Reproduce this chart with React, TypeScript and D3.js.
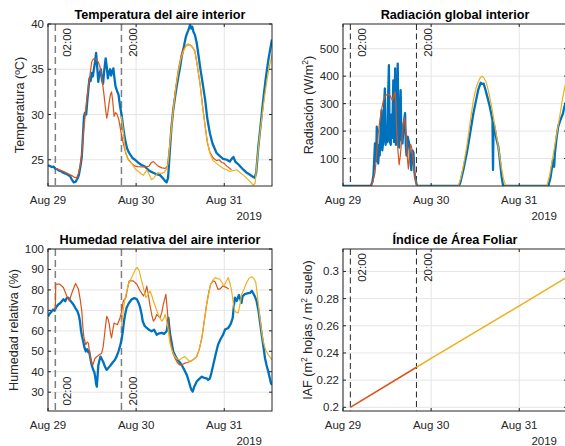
import React from 'react';
import * as d3 from 'd3';

type Pt = [number, number];

// hours counted from Aug 29 2019 00:00
const startDate = new Date(2019, 7, 29, 0, 0);
const endDate = new Date(2019, 7, 31, 13, 0);
const eventHours = [2, 20];
const eventLabels = ['02:00', '20:00'];

const tempMeasured: Pt[] = [
  [0, 24.4], [0.5, 24.3], [1, 24.2], [1.5, 24.25], [2, 24.0], [2.5, 23.95], [3, 23.8], [3.5, 23.75], [4, 23.6],
  [4.5, 23.5], [5, 23.45], [5.5, 23.3], [6, 23.2], [6.5, 22.8], [7, 22.5], [7.5, 22.55], [8, 22.9], [8.4, 23.3],
  [8.8, 24.2], [9.2, 25.3], [9.5, 27.5], [9.8, 29.8], [10.1, 30.2], [10.4, 30.0], [10.7, 31.5], [11.0, 32.8],
  [11.3, 34.0], [11.6, 33.7], [11.9, 34.6], [12.2, 34.2], [12.5, 35.0], [12.8, 35.8], [13.1, 36.8], [13.4, 35.2],
  [13.7, 33.6], [14.0, 34.5], [14.4, 35.0], [14.7, 33.8], [15.0, 33.4], [15.3, 34.8], [15.7, 36.2], [16.0, 35.3],
  [16.3, 34.0], [16.6, 34.6], [16.9, 35.0], [17.2, 34.3], [17.5, 34.8], [17.8, 35.1], [18.1, 34.0], [18.4, 33.1],
  [18.8, 32.6], [19.2, 32.2], [19.6, 31.0], [20.1, 29.8], [20.5, 28.5], [21, 27.2], [21.5, 26.3], [21.9, 25.9],
  [22.5, 25.5], [23, 25.2], [23.7, 25.0], [24.5, 24.7], [25.5, 24.4], [26.4, 24.25], [27.5, 23.8], [28.5, 23.6],
  [29.5, 23.4], [30.5, 23.3], [31.2, 23.0], [31.8, 22.7], [32.3, 22.5], [32.7, 23.0], [33.2, 26.1], [33.6, 28.5],
  [34.1, 30.5], [34.8, 32.5], [35.5, 34.2], [36.0, 35.3], [36.4, 36.4], [37.0, 37.5], [37.5, 38.5], [37.8, 38.9],
  [38.2, 39.3], [38.7, 39.9], [39.0, 39.5], [39.3, 39.7], [39.6, 39.15], [40.0, 38.8], [40.5, 37.9], [41.0, 36.5],
  [41.4, 35.3], [42.1, 33.5], [42.8, 31.6], [43.4, 29.5], [44.1, 27.9], [44.8, 26.8], [45.9, 25.75], [46.8, 25.4],
  [47.7, 25.1], [48.7, 25.0], [49.5, 24.8], [50.0, 25.1], [50.5, 25.3], [51.0, 24.8], [51.8, 24.5], [52.5, 24.2],
  [53.2, 23.9], [54.0, 23.6], [54.8, 23.4], [55.5, 23.2], [55.9, 23.1], [56.3, 23.0], [56.7, 23.6], [57.3, 26.5],
  [58.0, 29.2], [58.6, 31.6], [59.3, 34.0], [60.0, 36.0], [60.5, 37.2], [61, 38.3],
];

const tempSimA: Pt[] = [
  [2, 24.05], [3, 23.9], [4, 23.75], [5, 23.55], [5.5, 23.45], [6.5, 23.25], [7.2, 23.05], [7.8, 23.0], [8.3, 23.5],
  [8.8, 24.4], [9.2, 25.7], [9.6, 27.8], [10.1, 29.8], [10.5, 31.5], [11.0, 33.1], [11.5, 34.6], [11.9, 35.8],
  [12.3, 36.1], [12.6, 36.2], [13.1, 36.1], [13.7, 35.8], [14.2, 35.2], [14.6, 34.2], [15.0, 33.0], [15.3, 32.0],
  [15.7, 30.5], [16.0, 29.6], [16.3, 30.2], [16.6, 31.2], [17.0, 32.2], [17.3, 32.5], [17.6, 31.6], [18.0, 29.8],
  [18.4, 30.2], [18.7, 30.1], [19.0, 29.8], [19.3, 29.4], [19.9, 28.0], [20.5, 26.8], [21.2, 25.7], [21.9, 25.0],
  [22.8, 24.6], [23.7, 24.3], [24.5, 24.25], [25.5, 24.2], [26.5, 24.2], [27.5, 24.3], [28.2, 24.7], [28.7, 24.8],
  [29.2, 24.6], [30.0, 24.3], [31.0, 24.1], [31.9, 24.05], [32.5, 24.3], [33.2, 26.8], [34.1, 30.5], [34.8, 33.0],
  [35.5, 35.0], [36.3, 36.6], [37.0, 37.3], [37.8, 37.7], [38.7, 37.7], [39.4, 37.4], [40.0, 37.0], [40.7, 35.3],
  [41.4, 33.4], [42.1, 30.9], [42.8, 28.7], [43.4, 26.9], [44.1, 25.8], [45.0, 25.2], [45.9, 24.9], [46.6, 25.0],
  [47.3, 24.7], [48.0, 24.6], [48.7, 24.3], [49.6, 24.0], [50, 23.9],
];

const tempSimB: Pt[] = [
  [20.0, 29.8], [20.5, 28.2], [21.0, 26.1], [21.5, 25.3], [22.0, 24.9], [22.8, 24.6], [23.7, 24.0], [24.6, 23.7],
  [25.5, 23.4], [26.0, 23.3], [26.5, 23.6], [26.9, 23.9], [27.4, 23.5], [28.2, 22.8], [28.8, 23.0], [29.4, 23.3],
  [30.0, 23.6], [30.5, 23.5], [31.0, 23.5], [31.6, 23.6], [32.3, 24.0], [32.7, 24.6], [33.2, 26.8], [34.1, 30.5],
  [34.8, 33.0], [35.5, 34.8], [36.2, 36.2], [36.8, 36.9], [37.5, 37.5], [38.1, 37.8], [38.7, 37.7], [39.4, 37.4],
  [40.0, 37.0], [40.7, 35.3], [41.4, 33.4], [42.1, 30.9], [42.8, 28.7], [43.4, 27.0], [44.1, 25.7], [45.0, 24.9],
  [45.9, 24.6], [46.8, 24.3], [47.7, 24.05], [48.6, 23.9], [49.6, 23.7], [50.5, 23.8], [51.4, 23.9], [52.3, 23.6],
  [53.2, 23.3], [54.0, 23.0], [54.5, 22.8], [55.2, 22.5], [55.9, 22.2], [56.4, 22.4], [56.8, 24.25], [57.7, 27.9],
  [58.4, 30.2], [59.1, 32.35], [59.8, 34.2], [60.4, 35.5], [61, 36.6],
];

const radMeasured: Pt[] = [
  [0, 0], [7.6, 0], [8.0, 15], [8.3, 40], [8.7, 155], [9.0, 90], [9.2, 216], [9.4, 120], [9.6, 82], [9.8, 150],
  [10.0, 111], [10.3, 230], [10.5, 276], [10.7, 130], [11.0, 167], [11.2, 300], [11.4, 355], [11.6, 150], [11.9, 200],
  [12.1, 160], [12.3, 330], [12.5, 440], [12.7, 167], [13.0, 150], [13.2, 260], [13.4, 175], [13.7, 385], [13.9, 160],
  [14.2, 428], [14.4, 150], [14.6, 191], [14.9, 446], [15.1, 216], [15.3, 140], [15.5, 260], [15.7, 349], [15.9, 170],
  [16.2, 155], [16.5, 220], [16.9, 265], [17.1, 150], [17.3, 111], [17.6, 180], [18.0, 155], [18.3, 100], [18.6, 58],
  [18.9, 130], [19.2, 121], [19.4, 60], [19.6, 34], [19.9, 15], [20.1, 3], [20.5, 0], [31.5, 0], [31.9, 10],
  [32.8, 60], [33.7, 119], [34.6, 190], [35.5, 264], [36.2, 310], [36.8, 349], [37.2, 365], [37.5, 376], [37.8, 372],
  [38.3, 373], [38.8, 350], [39.4, 320], [40.0, 288], [40.4, 260], [40.7, 240], [40.85, 58], [41.0, 230], [41.4, 203],
  [41.8, 170], [42.3, 143], [42.6, 110], [43.2, 33], [43.6, 0], [55.9, 0], [56.5, 30], [57.2, 95], [57.5, 70],
  [57.7, 119], [58.2, 180], [58.6, 216], [59.2, 240], [59.9, 264], [60.3, 290], [60.6, 300], [61, 320],
];

const radSimA: Pt[] = [
  [2, 0], [7.5, 0], [8.2, 20], [8.7, 47], [9.2, 120], [9.6, 192], [10.3, 264], [11.0, 313], [11.5, 328], [11.9, 333],
  [12.4, 334], [12.8, 330], [13.4, 313], [13.8, 325], [14.2, 343], [14.4, 300], [14.6, 216], [15.0, 120], [15.3, 78],
  [15.6, 110], [16.0, 167], [16.4, 230], [16.7, 248], [17.0, 220], [17.3, 167], [17.6, 90], [17.8, 62], [18.1, 120],
  [18.4, 152], [18.7, 140], [19.0, 111], [19.3, 70], [19.6, 33], [20.1, 0], [20.5, 0],
];

const radSimB: Pt[] = [
  [20, 0], [31.4, 0], [32.0, 25], [32.8, 75], [33.7, 143], [34.6, 230], [35.5, 313], [36.2, 355], [36.8, 379],
  [37.4, 395], [37.9, 400], [38.5, 392], [39.1, 373], [39.8, 335], [40.5, 288], [41.4, 215], [42.3, 143], [43.1, 70],
  [43.8, 20], [44.4, 0], [55.5, 0], [56.3, 40], [57.3, 119], [58.2, 190], [59.1, 260], [59.8, 320], [60.5, 367],
  [61, 385],
];

const humMeasured: Pt[] = [
  [0, 67], [0.5, 68.5], [1, 69.5], [1.4, 70.4], [1.8, 69.8], [2.2, 71.5], [2.8, 72.9], [3.3, 73.5], [3.8, 74.6],
  [4.2, 75.4], [4.7, 74.5], [5.1, 76], [5.5, 76.2], [6.0, 75], [6.5, 73.8], [6.9, 72.9], [7.5, 71], [8.0, 69.6],
  [8.4, 67.5], [8.7, 64.7], [9.0, 60], [9.3, 57], [9.6, 54.8], [9.9, 52], [10.3, 49.9], [10.7, 51], [11.0, 49.5],
  [11.2, 50], [11.6, 46], [11.9, 43.3], [12.3, 41], [12.6, 40], [12.9, 37], [13.1, 34], [13.3, 32.7], [13.5, 38],
  [13.7, 43], [14.0, 45.5], [14.3, 47.4], [14.7, 46], [15.0, 45], [15.5, 42.5], [16.0, 40.9], [16.5, 42], [17.1, 43.3],
  [17.6, 44.5], [18.2, 45.7], [18.7, 47.5], [19.2, 50], [19.7, 53], [20.1, 56.5], [20.4, 60], [20.7, 64.7], [21.0, 68],
  [21.4, 71.3], [22.0, 73.5], [22.8, 75.4], [23.5, 76], [24.2, 75.4], [24.7, 73.5], [25.1, 71.3], [25.5, 68],
  [25.8, 64.7], [26.3, 62.5], [26.9, 61.4], [27.5, 60.5], [28.2, 59.8], [28.9, 60.5], [29.6, 58.1], [30.3, 58.8],
  [31.0, 59], [31.6, 58.5], [32.3, 59.8], [32.6, 63], [32.8, 66.3], [33.0, 62], [33.3, 58], [33.7, 54], [34.1, 49.9],
  [34.6, 48], [35.0, 46.6], [35.7, 45], [36.4, 43.3], [37.1, 41], [37.8, 38.4], [38.4, 35], [38.8, 32.5], [39.1, 31.0],
  [39.4, 30.3], [39.8, 32.5], [40.5, 35.2], [41.2, 36.5], [41.9, 37.6], [42.5, 37], [43.2, 36.8], [43.6, 36],
  [44.1, 36.8], [44.5, 39.5], [45.0, 43.3], [45.6, 48], [46.3, 53.2], [47.0, 56], [47.7, 58.1], [48.2, 60.6],
  [49.1, 61.4], [49.8, 63.5], [50.3, 66.3], [50.6, 72], [50.9, 76.2], [51.4, 74.6], [52.0, 77.5], [52.7, 73.7],
  [53.0, 77], [53.6, 77.9], [54.3, 78.3], [55.0, 78.5], [55.5, 79.5], [56.0, 78], [56.4, 76.5], [56.8, 74.6],
  [57.3, 70], [57.7, 64.7], [58.2, 58], [58.6, 53.2], [59.1, 46.6], [59.5, 43.3], [60.0, 40], [60.4, 36.8],
  [60.7, 34.5], [61, 33.5],
];

const humSimA: Pt[] = [
  [2, 70], [2.1, 82.8], [3.2, 82.8], [4.2, 81.2], [5.1, 77], [5.8, 74.6], [6.7, 79.5], [7.5, 83.1], [8.3, 80.3],
  [8.8, 75], [9.2, 69.6], [9.5, 62], [9.8, 56.5], [10.3, 53.2], [10.7, 54.5], [11.0, 54], [11.4, 48.3], [11.8, 45],
  [12.2, 43.3], [12.8, 46.6], [13.7, 47.9], [14.6, 49], [15.0, 52], [15.3, 56.5], [15.7, 63], [16.0, 67.1],
  [16.4, 65.5], [16.7, 63], [17.0, 59], [17.3, 56.5], [17.7, 61], [18.0, 63.8], [18.9, 63], [19.6, 66.3], [20.0, 69],
  [20.5, 74.6], [21.2, 76.2], [21.7, 81], [22.1, 84.4], [23.2, 84.4], [24.2, 82.8], [25.1, 79.5], [26.0, 77],
  [26.5, 79], [26.9, 81.9], [27.3, 78], [27.8, 72.1], [28.3, 67.5], [28.7, 64.7], [29.2, 66], [29.6, 68], [30.5, 66.3],
  [31.0, 69], [31.4, 72.9], [32.1, 77.8], [32.5, 70], [32.8, 63], [33.2, 57], [33.7, 51.6], [34.1, 48.5], [34.6, 46.6],
  [35.2, 44.5], [35.9, 43.3], [36.6, 43.5], [37.3, 44.2], [38.0, 44.5], [38.7, 45], [39.6, 46], [40.5, 47.4],
  [41.2, 51], [41.9, 56.5], [42.5, 64], [43.2, 72.9], [43.8, 79], [44.3, 82.8], [45.0, 84.4], [45.5, 84], [46.3, 80.3],
  [46.9, 80.5], [47.6, 81.9], [48.2, 81.5], [48.7, 81.1], [49.2, 80.5],
];

const humSimB: Pt[] = [
  [20.0, 62], [20.5, 70], [21.0, 76], [21.9, 82.8], [22.5, 85], [23.2, 87.7], [23.8, 90], [24.3, 91], [24.8, 89.5],
  [25.5, 84.4], [26.1, 80], [26.7, 76.2], [27.2, 77.5], [27.8, 79.5], [28.3, 77], [28.7, 74.6], [29.4, 71], [30.0, 68],
  [31.0, 64.7], [31.5, 66], [31.9, 68], [32.4, 64], [32.8, 59.8], [33.2, 54], [33.7, 50.8], [34.2, 48.5], [34.6, 47.4],
  [35.2, 46.2], [35.9, 45.8], [36.6, 46.8], [37.3, 47.4], [38.0, 46], [38.7, 45], [39.6, 46], [40.5, 47.4], [41.2, 51],
  [41.9, 56.5], [42.5, 64], [43.2, 72.9], [43.8, 78.5], [44.3, 82.8], [45.0, 85], [45.5, 86], [46.2, 85.5],
  [46.8, 85.2], [47.4, 83.5], [47.9, 81.9], [48.5, 84], [49.1, 86], [49.6, 83], [50.0, 79.5], [50.5, 73], [50.9, 69.6],
  [51.4, 69], [51.8, 68.8], [52.3, 73], [52.7, 77.8], [53.4, 80.5], [54.1, 83.6], [54.8, 85.8], [55.5, 86.4],
  [56.1, 85.5], [56.6, 83.6], [57.1, 76], [57.7, 66.3], [58.2, 59.5], [58.6, 54.8], [59.3, 50.5], [60.0, 48.3],
  [60.5, 47], [61, 45.8],
];

const iafSimA: Pt[] = [[2, 0.2], [20, 0.2295]];
const iafSimB: Pt[] = [[20, 0.2295], [24, 0.2361], [48, 0.2747], [61, 0.2957]];

const tempTicks = [25, 30, 35, 40];
const radTicks = [100, 200, 300, 400, 500];
const humTicks = [30, 40, 50, 60, 70, 80, 90, 100];
const iafTicks = [0.2, 0.22, 0.24, 0.26, 0.28, 0.3];

const BLUE = '#0072BD';
const ORANGE = '#D95319';
const YELLOW = '#EDB120';
const AXIS = '#262626';
const FONT = '"Liberation Sans", Arial, Helvetica, sans-serif';

const toDate = (h: number) => new Date(startDate.getTime() + h * 3600 * 1000);

type Series = { data: Pt[]; color: string; width: number };

type PanelProps = {
  id: string;
  left: number;
  top: number;
  title: string;
  ylabel: React.ReactNode;
  ylabelOffset: number;
  yDomain: [number, number];
  yTicks: number[];
  yFormat: (v: number) => string;
  series: Series[];
  eventAtBottom?: boolean;
  eventColor: string;
  eventWidth: number;
  eventDash: string;
};

const W = 224;
const H = 162;

function Panel(p: PanelProps) {
  const x = d3.scaleTime().domain([startDate, endDate]).range([p.left, p.left + W]);
  const y = d3.scaleLinear().domain(p.yDomain).range([p.top + H, p.top]);
  const xTicks = x.ticks(d3.timeDay.every(1)!);
  const fmt = d3.timeFormat('%b %d');
  const line = d3
    .line<Pt>()
    .x((d) => x(toDate(d[0])))
    .y((d) => y(d[1]));
  const bottom = p.top + H;
  const right = p.left + W;
  const tl = 3;

  return (
    <g>
      <clipPath id={p.id}>
        <rect x={p.left} y={p.top} width={W} height={H} />
      </clipPath>
      {/* grid */}
      {xTicks.map((t, i) => (
        <line key={'gx' + i} x1={x(t)} x2={x(t)} y1={p.top} y2={bottom} stroke="#e5e5e5" strokeWidth={1} />
      ))}
      {p.yTicks.map((t, i) => (
        <line key={'gy' + i} x1={p.left} x2={right} y1={y(t)} y2={y(t)} stroke="#e5e5e5" strokeWidth={1} />
      ))}
      {/* event markers */}
      {eventHours.map((h, i) => {
        const ex = x(toDate(h));
        return (
          <g key={'ev' + i}>
            <line
              x1={ex}
              x2={ex}
              y1={p.top}
              y2={bottom}
              stroke={p.eventColor}
              strokeWidth={p.eventWidth}
              strokeDasharray={p.eventDash}
            />
            <text
              transform={`translate(${ex + 16},${p.eventAtBottom ? bottom - 5.5 : p.top + 4}) rotate(-90)`}
              textAnchor={p.eventAtBottom ? 'start' : 'end'}
              fontSize={11.5}
              fontFamily={FONT}
              fill={AXIS}
            >
              {eventLabels[i]}
            </text>
          </g>
        );
      })}
      {/* data */}
      <g clipPath={`url(#${p.id})`}>
        {p.series.map((s, i) => (
          <path key={'s' + i} d={line(s.data) || ''} fill="none" stroke={s.color} strokeWidth={s.width} strokeLinejoin="round" />
        ))}
      </g>
      {/* box */}
      <rect x={p.left} y={p.top} width={W} height={H} fill="none" stroke={AXIS} strokeWidth={1} />
      {xTicks.map((t, i) => (
        <g key={'xt' + i}>
          <line x1={x(t)} x2={x(t)} y1={bottom} y2={bottom - tl} stroke={AXIS} />
          <line x1={x(t)} x2={x(t)} y1={p.top} y2={p.top + tl} stroke={AXIS} />
          <text x={x(t)} y={bottom + 18} textAnchor="middle" fontSize={11.5} fontFamily={FONT} fill={AXIS}>
            {fmt(t)}
          </text>
        </g>
      ))}
      <text x={right - 10} y={bottom + 34} textAnchor="end" fontSize={11.5} fontFamily={FONT} fill={AXIS}>
        2019
      </text>
      {p.yTicks.map((t, i) => (
        <g key={'yt' + i}>
          <line x1={p.left} x2={p.left + tl} y1={y(t)} y2={y(t)} stroke={AXIS} />
          <line x1={right} x2={right - tl} y1={y(t)} y2={y(t)} stroke={AXIS} />
          <text x={p.left - 4} y={y(t)} dy="0.35em" textAnchor="end" fontSize={11.5} fontFamily={FONT} fill={AXIS}>
            {p.yFormat(t)}
          </text>
        </g>
      ))}
      <text
        transform={`translate(${p.left - p.ylabelOffset},${p.top + H / 2}) rotate(-90)`}
        textAnchor="middle"
        fontSize={12.6}
        fontFamily={FONT}
        fill={AXIS}
      >
        {p.ylabel}
      </text>
      <text
        x={p.left + W / 2}
        y={p.top - 5.5}
        textAnchor="middle"
        fontSize={12.7}
        fontWeight="bold"
        fontFamily={FONT}
        fill="#000"
      >
        {p.title}
      </text>
    </g>
  );
}

const sup = (s: string) => (
  <tspan baselineShift="super" fontSize={8.5}>
    {s}
  </tspan>
);

export default function App() {
  const leftEvent = { eventColor: '#7f7f7f', eventWidth: 1.5, eventDash: '7,4' };
  const rightEvent = { eventColor: '#262626', eventWidth: 1, eventDash: '6,3.5' };
  return (
    <svg
      width={565}
      height={446}
      style={{ position: 'absolute', left: 0, top: 0, background: '#fff' }}
    >
      <rect width={565} height={446} fill="#fff" />
      <Panel
        id="c1"
        left={48}
        top={24}
        title="Temperatura del aire interior"
        ylabel="Temperatura (ºC)"
        ylabelOffset={24}
        yDomain={[22.1, 40]}
        yTicks={tempTicks}
        yFormat={(v) => String(v)}
        series={[
          { data: tempMeasured, color: BLUE, width: 2.3 },
          { data: tempSimA, color: ORANGE, width: 1.2 },
          { data: tempSimB, color: YELLOW, width: 1.2 },
        ]}
        {...leftEvent}
      />
      <Panel
        id="c2"
        left={343}
        top={24}
        title="Radiación global interior"
        ylabel={<>Radiación (W/m{sup('2')})</>}
        ylabelOffset={30}
        yDomain={[0, 590]}
        yTicks={radTicks}
        yFormat={(v) => String(v)}
        series={[
          { data: radMeasured, color: BLUE, width: 2.3 },
          { data: radSimA, color: ORANGE, width: 1.2 },
          { data: radSimB, color: YELLOW, width: 1.2 },
        ]}
        {...rightEvent}
      />
      <Panel
        id="c3"
        left={48}
        top={249}
        title="Humedad relativa del aire interior"
        ylabel="Humedad relativa (%)"
        ylabelOffset={30}
        yDomain={[20.8, 100]}
        yTicks={humTicks}
        yFormat={(v) => String(v)}
        series={[
          { data: humMeasured, color: BLUE, width: 2.3 },
          { data: humSimA, color: ORANGE, width: 1.2 },
          { data: humSimB, color: YELLOW, width: 1.2 },
        ]}
        eventAtBottom
        {...leftEvent}
      />
      <Panel
        id="c4"
        left={343}
        top={249}
        title="Índice de Área Foliar"
        ylabel={<>IAF (m{sup('2')} hojas / m{sup('2')} suelo)</>}
        ylabelOffset={31}
        yDomain={[0.1973, 0.3165]}
        yTicks={iafTicks}
        yFormat={(v) => String(+v.toFixed(2))}
        series={[
          { data: iafSimA, color: ORANGE, width: 1.5 },
          { data: iafSimB, color: YELLOW, width: 1.5 },
        ]}
        {...rightEvent}
      />
    </svg>
  );
}
